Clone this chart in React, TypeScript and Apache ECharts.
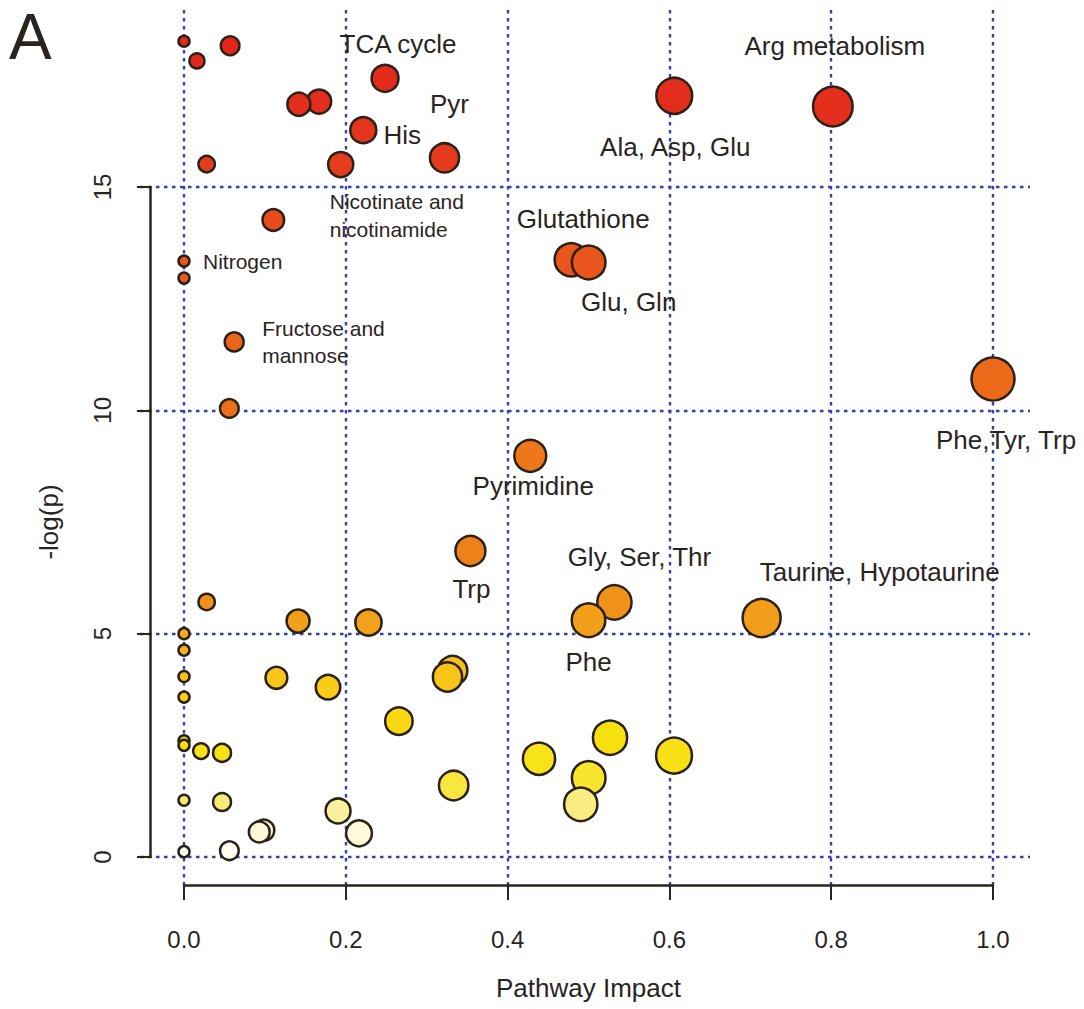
import React, { useEffect, useRef } from "react";
import * as echarts from "echarts";

// ---- data (sorted by -log(p), descending: drawing order) ----
const impact = [
  0.0, 0.057, 0.016, 0.2485, 0.606, 0.167, 0.142, 0.802, 0.2216, 0.322,
  0.028, 0.1937, 0.1104, 0.4786, 0.0, 0.5002, 0.0, 0.062, 1.0, 0.056,
  0.428, 0.354, 0.028, 0.532, 0.714, 0.5, 0.141, 0.228, 0.0, 0.0,
  0.332, 0.0, 0.3257, 0.1142, 0.178, 0.0, 0.2656, 0.5266, 0.0, 0.0,
  0.021, 0.047, 0.6057, 0.4388, 0.5002, 0.3333, 0.0, 0.047, 0.4904, 0.1904,
  0.0986, 0.093, 0.2163, 0.0561, 0.0,
];
const negLogP = [
  18.26, 18.16, 17.82, 17.43, 17.04, 16.91, 16.85, 16.8, 16.27, 15.65,
  15.51, 15.5, 14.26, 13.37, 13.34, 13.31, 12.96, 11.53, 10.7, 10.04,
  8.98, 6.85, 5.71, 5.7, 5.35, 5.3, 5.28, 5.25, 5.0, 4.63,
  4.17, 4.04, 4.03, 4.01, 3.8, 3.58, 3.04, 2.67, 2.6, 2.5,
  2.37, 2.33, 2.27, 2.2, 1.77, 1.6, 1.27, 1.23, 1.18, 1.03,
  0.6, 0.56, 0.53, 0.14, 0.12,
];
const pathwayNames = [
  "", "", "", "TCA cycle", "Ala, Asp, Glu", "", "", "Arg metabolism", "His", "Pyr",
  "", "Nicotinate and\nnicotinamide", "", "Glutathione", "Nitrogen", "Glu, Gln", "", "Fructose and\nmannose", "Phe,Tyr, Trp", "",
  "Pyrimidine", "Trp", "", "Gly, Ser, Thr", "Taurine, Hypotaurine", "Phe", "", "", "", "",
  "", "", "", "", "", "", "", "", "", "",
  "", "", "", "", "", "", "", "", "", "",
  "", "", "", "", "",
];
const xTicks = [0, 0.2, 0.4, 0.6, 0.8, 1.0];
const yTicks = [0, 5, 10, 15];

// ---- styling ----
const FONT = "Liberation Sans, Arial, Helvetica, sans-serif";
const INK = "#2A241E";
const GRID_LINE = { type: [3.5, 4.5] as any, width: 2.4, color: "#3341A2" };
const AXIS_LINE = { color: INK, width: 2.5 };

// label placement relative to point centre
const labelLayoutMap: Record<string, { dx: number; dy: number; align?: string; size?: number; lh?: number }> = {
  "TCA cycle": { dx: 13, dy: -34 },
  "Arg metabolism": { dx: 2, dy: -60 },
  Pyr: { dx: 5, dy: -54 },
  His: { dx: 39, dy: 5 },
  "Ala, Asp, Glu": { dx: 1, dy: 51 },
  "Nicotinate and\nnicotinamide": { dx: -11, dy: 51, align: "left", size: 21, lh: 28 },
  Glutathione: { dx: 12, dy: -41 },
  Nitrogen: { dx: 19, dy: 0, align: "left", size: 21 },
  "Glu, Gln": { dx: 40, dy: 40 },
  "Fructose and\nmannose": { dx: 28, dy: 0, align: "left", size: 21, lh: 27 },
  "Phe,Tyr, Trp": { dx: 13, dy: 61 },
  Pyrimidine: { dx: 3, dy: 30 },
  "Gly, Ser, Thr": { dx: 25, dy: -45 },
  "Taurine, Hypotaurine": { dx: 118, dy: -46 },
  Trp: { dx: 1, dy: 38 },
  Phe: { dx: 0, dy: 42 },
};

// heat colour stops by -log(p)
const colorStops: [number, string][] = [
  [0, "#FFFFF8"], [0.5, "#FDF9DC"], [1.0, "#F9F2A6"], [1.25, "#F8EA74"],
  [1.6, "#F8E73C"], [2.0, "#F8E41C"], [2.6, "#F8E010"], [3.0, "#F9D812"],
  [3.6, "#F9D014"], [4.0, "#F8C518"], [5.0, "#F4AA1A"], [5.7, "#F0921A"],
  [7.0, "#EE7F1A"], [9.0, "#EE771A"], [10.7, "#EC6A1A"], [13.3, "#E9561C"],
  [15.5, "#E53C1C"], [17.0, "#E32D1C"], [18.3, "#E2261A"],
];
function heat(v: number): string {
  if (v <= colorStops[0][0]) return colorStops[0][1];
  for (let i = 1; i < colorStops.length; i++) {
    const [v1, c1] = colorStops[i];
    const [v0, c0] = colorStops[i - 1];
    if (v <= v1) return echarts.color.lerp((v - v0) / (v1 - v0), [c0, c1]) as string;
  }
  return colorStops[colorStops.length - 1][1];
}

const X_EXTENT = [-0.0544, 1.0457];
const Y_EXTENT = [-0.627, 18.96];

export default function App() {
  const ref = useRef<HTMLDivElement>(null);
  useEffect(() => {
    document.body.style.margin = "0";
    const chart = echarts.init(ref.current!, undefined, { renderer: "svg" });
    const data = impact.map((x, i) => {
      const name = pathwayNames[i];
      const item: any = { value: [x, negLogP[i]], name };
      if (name) {
        const l = labelLayoutMap[name];
        item.label = {
          show: true,
          position: "inside",
          align: l.align || "center",
          verticalAlign: "middle",
          formatter: name,
          fontSize: l.size || 26,
          lineHeight: l.lh || 30,
          color: INK,
          fontFamily: FONT,
        };
      }
      return item;
    });
    chart.setOption({
      animation: false,
      backgroundColor: "#ffffff",
      graphic: [
        {
          type: "text",
          left: 9,
          top: 5,
          style: { text: "A", fontSize: 64, fill: INK, fontFamily: FONT },
        },
      ],
      grid: [
        { left: 140, top: 10, width: 890, height: 875 },
        { left: 184, top: 10, width: 809, height: 875 },
        { left: 140, top: 187, width: 890, height: 670 },
        { left: 150, top: 187, width: 10, height: 670 },
      ],
      xAxis: [
        { gridIndex: 0, type: "value", min: X_EXTENT[0], max: X_EXTENT[1], show: false },
        {
          gridIndex: 1,
          type: "value",
          min: xTicks[0],
          max: xTicks[xTicks.length - 1],
          interval: xTicks[1] - xTicks[0],
          position: "bottom",
          axisLine: { show: true, onZero: false, lineStyle: AXIS_LINE },
          axisTick: { show: true, inside: false, length: 15, lineStyle: { color: INK, width: 2 } },
          axisLabel: {
            formatter: (v: number) => v.toFixed(1),
            margin: 42,
            fontSize: 24,
            color: INK,
            fontFamily: FONT,
          },
          splitLine: { show: true, lineStyle: GRID_LINE },
          name: "Pathway Impact",
          nameLocation: "middle",
          nameGap: 90,
          nameTextStyle: { fontSize: 26, color: INK, fontFamily: FONT },
        },
        { gridIndex: 2, type: "value", min: 0, max: 1, show: false },
        { gridIndex: 3, type: "value", min: 0, max: 1, show: false },
      ],
      yAxis: [
        { gridIndex: 0, type: "value", min: Y_EXTENT[0], max: Y_EXTENT[1], show: false },
        { gridIndex: 1, type: "value", min: 0, max: 1, show: false },
        {
          gridIndex: 2,
          type: "value",
          min: yTicks[0],
          max: yTicks[yTicks.length - 1],
          interval: yTicks[1] - yTicks[0],
          axisLine: { show: false },
          axisTick: { show: false },
          axisLabel: { show: false },
          splitLine: { show: true, lineStyle: GRID_LINE },
        },
        {
          gridIndex: 3,
          type: "value",
          min: yTicks[0],
          max: yTicks[yTicks.length - 1],
          interval: yTicks[1] - yTicks[0],
          position: "left",
          axisLine: { show: true, onZero: false, lineStyle: AXIS_LINE },
          axisTick: { show: true, inside: false, length: 13, lineStyle: { color: INK, width: 2 } },
          axisLabel: { rotate: 90, margin: 36, fontSize: 24, color: INK, fontFamily: FONT },
          splitLine: { show: false },
          name: "-log(p)",
          nameLocation: "middle",
          nameRotate: 90,
          nameGap: 88,
          nameTextStyle: { fontSize: 26, color: INK, fontFamily: FONT },
        },
      ],
      series: [
        {
          type: "scatter",
          xAxisIndex: 0,
          yAxisIndex: 0,
          data,
          symbol: "circle",
          symbolSize: (v: number[]) => 11 + 32 * Math.sqrt(v[0]),
          itemStyle: {
            color: (p: any) => heat(p.value[1]),
            borderColor: "#2A2118",
            borderWidth: 2.5,
            opacity: 1,
          },
          emphasis: { disabled: true },
          labelLayout: (params: any) => {
            const name = pathwayNames[params.dataIndex];
            const l = name ? labelLayoutMap[name] : null;
            return l ? { dx: l.dx, dy: l.dy, hideOverlap: false } : {};
          },
          z: 5,
        },
      ],
    });
    return () => chart.dispose();
  }, []);
  return (
    <div
      ref={ref}
      style={{ position: "absolute", left: 0, top: 0, width: 1084, height: 1009 }}
    />
  );
}
